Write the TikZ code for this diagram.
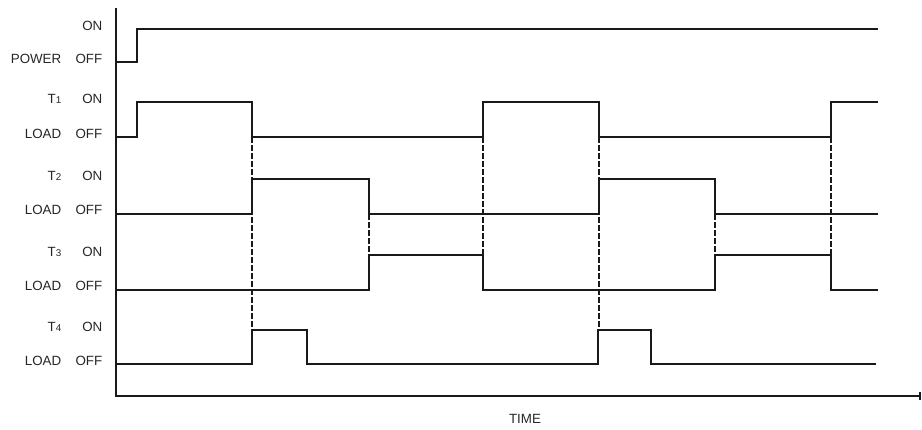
\documentclass[tikz,border=0pt]{standalone}
\usepackage{fontspec}
\setmainfont{Liberation Sans}
\usetikzlibrary{arrows.meta}

\newcommand{\tload}[1]{T{\fontsize{7}{8}\selectfont #1}}

\begin{document}
\begin{tikzpicture}[x=0.25mm,y=-0.25mm,line width=1pt,
	font=\fontsize{9.5}{11}\selectfont]
	\tikzstyle{every node}=[inner sep=0pt,anchor=east,text=black!85]
	\tikzstyle{wave}=[line width=1.1pt,line join=miter,draw=black!90]
	\tikzstyle{guide}=[line width=0.9pt,dash pattern=on 4pt off 1.7pt,draw=black!90]

	\useasboundingbox (0,0) rectangle (922,429);

	% row labels
	\node (on0)   at (103,26)  {ON};
	\node (off0)  at (103,59)  {OFF};
	\node (power) at (62,59)   {POWER};
	\node (on1)   at (103,99)  {ON};
	\node (off1)  at (103,134) {OFF};
	\node (t1)    at (62,99)   {\tload{1}};
	\node (load1) at (62,134)  {LOAD};
	\node (on2)   at (103,176) {ON};
	\node (off2)  at (103,210) {OFF};
	\node (t2)    at (62,176)  {\tload{2}};
	\node (load2) at (62,210)  {LOAD};
	\node (on3)   at (103,252) {ON};
	\node (off3)  at (103,286) {OFF};
	\node (t3)    at (62,252)  {\tload{3}};
	\node (load3) at (62,286)  {LOAD};
	\node (on4)   at (103,327) {ON};
	\node (off4)  at (103,361) {OFF};
	\node (t4)    at (62,327)  {\tload{4}};
	\node (load4) at (62,361)  {LOAD};
	\node[anchor=center] (time) at (525,419) {TIME};

	% dashed switching lines
	\draw[guide] (252,137) -- (252,330);
	\draw[guide] (369,214) -- (369,255);
	\draw[guide] (483,137) -- (483,290);
	\draw[guide] (599,137) -- (599,330);
	\draw[guide] (715,214) -- (715,255);
	\draw[guide] (831,137) -- (831,255);

	% waveforms
	\draw[wave] (116,62) -| (137,29) -- (878,29);
	\draw[wave] (116,137) -| (137,102) -| (252,137) -| (483,102) -| (599,137) -| (831,102) -- (878,102);
	\draw[wave] (116,214) -| (252,179) -| (369,214) -| (599,179) -| (715,214) -- (878,214);
	\draw[wave] (116,290) -| (369,255) -| (483,290) -| (715,255) -| (831,290) -- (878,290);
	\draw[wave] (116,364) -| (252,330) -| (307,364) -| (598,330) -| (651,364) -- (876,364);

	% axes
	\draw[black!90,line width=1.1pt,-{Bar[width=5pt]}] (116,8) -- (116,396) -- (921,396);
\end{tikzpicture}
\end{document}
